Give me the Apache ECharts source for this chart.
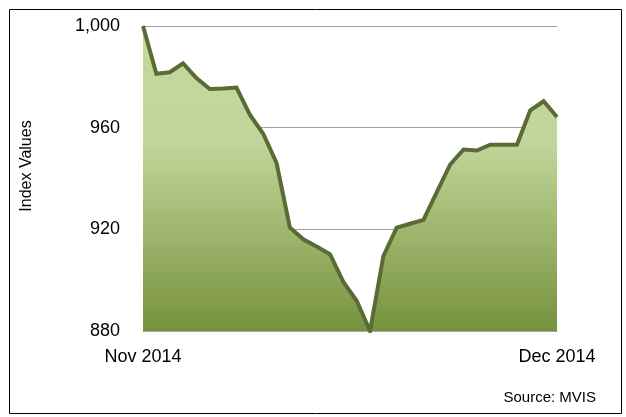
<!DOCTYPE html>
<html>
<head>
<meta charset="utf-8">
<script src="https://cdn.jsdelivr.net/npm/echarts@6/dist/echarts.min.js"></script>
<style>
html,body{margin:0;padding:0;background:#fff;}
#chart{width:626px;height:417px;}
</style>
</head>
<body>
<div id="chart"></div>
<script>
var categories = ['Nov 2014','','','','','','','','','','','','','','','','','','','','','','','','','','','','','','','Dec 2014'];
var indexValues = [1000, 981.2, 981.8, 985.3, 979.5, 975.2, 975.4, 975.8, 965.1, 957.6, 946.1, 920.7, 916.1, 913.2, 910.2, 899.3, 891.9, 880.0, 909.5, 920.7, 922.2, 923.7, 934.6, 945.5, 951.4, 951.0, 953.3, 953.3, 953.3, 966.8, 970.4, 964.2];
var yTicks = [880, 920, 960, 1000];

var chart = echarts.init(document.getElementById('chart'), null, {renderer:'canvas'});
var font = 'Liberation Sans';
chart.setOption({
  animation: false,
  backgroundColor: '#fff',
  grid: {left: 143, right: 69, top: 26, bottom: 86, containLabel: false},
  xAxis: {
    type: 'category',
    data: categories,
    boundaryGap: false,
    axisLine: {show: true, lineStyle: {color: '#a6a6a6', width: 1}},
    axisTick: {show: false},
    axisLabel: {
      interval: 0,
      margin: 17,
      color: '#000',
      fontFamily: font,
      fontSize: 18,
      formatter: function (v) { return v; }
    },
    splitLine: {show: false}
  },
  yAxis: {
    type: 'value',
    min: yTicks[0],
    max: yTicks[yTicks.length - 1],
    interval: 40,
    axisLine: {show: true, lineStyle: {color: '#a6a6a6', width: 1}},
    axisTick: {show: false},
    axisLabel: {
      margin: 23,
      color: '#000',
      fontFamily: font,
      fontSize: 18,
      formatter: function (v) { return v >= 1000 ? Math.floor(v/1000) + ',' + String(v % 1000).padStart(3,'0') : String(v); }
    },
    splitLine: {show: true, lineStyle: {color: '#a0a0a0', width: 1}}
  },
  graphic: [
    {type: 'rect', left: 7, top: 7, shape: {width: 612, height: 404}, style: {fill: null, stroke: '#000', lineWidth: 1}, silent: true, z: -1},
    {type: 'text', x: 27, y: 166, rotation: Math.PI/2, style: {text: 'Index Values', font: '16px "Liberation Sans"', fill: '#000', align: 'center', verticalAlign: 'middle'}},
    {type: 'text', x: 596, y: 398, style: {text: 'Source: MVIS', font: '15px "Liberation Sans"', fill: '#000', align: 'right', verticalAlign: 'middle'}}
  ],
  series: [{
    type: 'line',
    data: indexValues,
    symbol: 'none',
    lineStyle: {color: '#5b6b36', width: 4, join: 'miter'},
    areaStyle: {
      opacity: 1,
      color: new echarts.graphic.LinearGradient(0, 0, 0, 1, [
        {offset: 0, color: '#c4d89d'},
        {offset: 0.38, color: '#c2d69b'},
        {offset: 1, color: '#76923c'}
      ])
    }
  }]
});
</script>
</body>
</html>
